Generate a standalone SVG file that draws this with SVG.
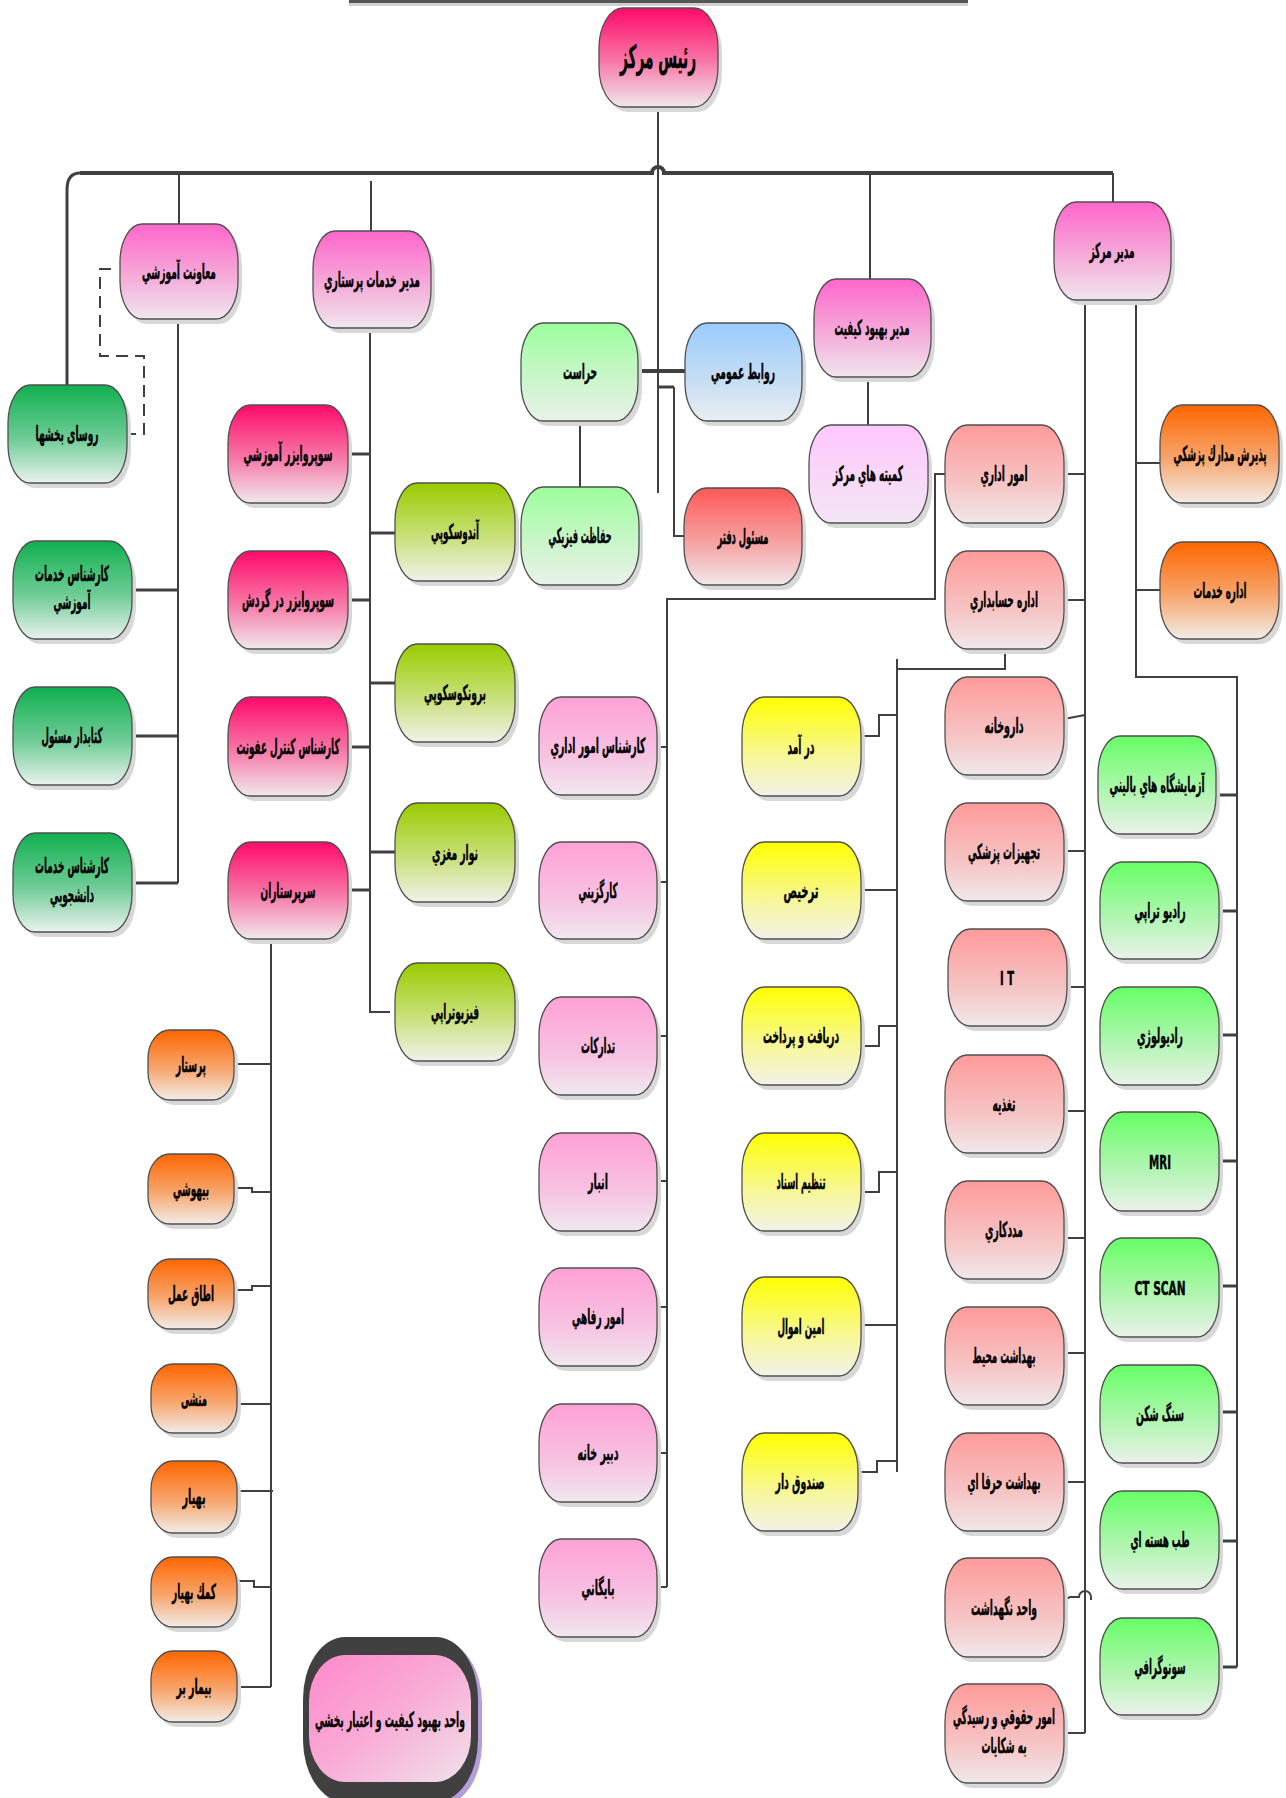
<svg xmlns="http://www.w3.org/2000/svg" width="1286" height="1798" viewBox="0 0 1286 1798">
<defs>
<linearGradient id="gHot" x1="0" y1="0" x2="0" y2="1"><stop offset="0" stop-color="#ff0a6a"/><stop offset="0.55" stop-color="#f77aa8"/><stop offset="1" stop-color="#f0e8ec"/></linearGradient>
<linearGradient id="gPink" x1="0" y1="0" x2="0" y2="1"><stop offset="0" stop-color="#ff66cc"/><stop offset="0.55" stop-color="#f5abd9"/><stop offset="1" stop-color="#f0e6ee"/></linearGradient>
<linearGradient id="gPinkL" x1="0" y1="0" x2="0" y2="1"><stop offset="0" stop-color="#ffa1d6"/><stop offset="0.6" stop-color="#f7c3e2"/><stop offset="1" stop-color="#f0e8ee"/></linearGradient>
<linearGradient id="gLav" x1="0" y1="0" x2="0" y2="1"><stop offset="0" stop-color="#ffc8ff"/><stop offset="1" stop-color="#f2e6f4"/></linearGradient>
<linearGradient id="gRed" x1="0" y1="0" x2="0" y2="1"><stop offset="0" stop-color="#ff5858"/><stop offset="0.6" stop-color="#f5a8a8"/><stop offset="1" stop-color="#f0e8ea"/></linearGradient>
<linearGradient id="gSal" x1="0" y1="0" x2="0" y2="1"><stop offset="0" stop-color="#ff9a9a"/><stop offset="0.6" stop-color="#f6c4c4"/><stop offset="1" stop-color="#f0e8ea"/></linearGradient>
<linearGradient id="gGrL" x1="0" y1="0" x2="0" y2="1"><stop offset="0" stop-color="#9cff9c"/><stop offset="0.6" stop-color="#cdf5cd"/><stop offset="1" stop-color="#eaf2ea"/></linearGradient>
<linearGradient id="gGrD" x1="0" y1="0" x2="0" y2="1"><stop offset="0" stop-color="#10b050"/><stop offset="0.55" stop-color="#6fcc96"/><stop offset="1" stop-color="#eaf2ee"/></linearGradient>
<linearGradient id="gOl" x1="0" y1="0" x2="0" y2="1"><stop offset="0" stop-color="#99cc00"/><stop offset="0.55" stop-color="#c8e07a"/><stop offset="1" stop-color="#f0f2ea"/></linearGradient>
<linearGradient id="gYel" x1="0" y1="0" x2="0" y2="1"><stop offset="0" stop-color="#ffff00"/><stop offset="0.6" stop-color="#f7f79a"/><stop offset="1" stop-color="#f2f2ea"/></linearGradient>
<linearGradient id="gOr" x1="0" y1="0" x2="0" y2="1"><stop offset="0" stop-color="#ff6600"/><stop offset="0.55" stop-color="#f7a66e"/><stop offset="1" stop-color="#f2ece8"/></linearGradient>
<linearGradient id="gGrB" x1="0" y1="0" x2="0" y2="1"><stop offset="0" stop-color="#66ff66"/><stop offset="0.6" stop-color="#b5f5b5"/><stop offset="1" stop-color="#eaf2ea"/></linearGradient>
<linearGradient id="gBlue" x1="0" y1="0" x2="0" y2="1"><stop offset="0" stop-color="#99ccff"/><stop offset="0.6" stop-color="#c8def3"/><stop offset="1" stop-color="#eaeef2"/></linearGradient>
<linearGradient id="gBig" x1="0" y1="0" x2="1" y2="1"><stop offset="0" stop-color="#ff88cc"/><stop offset="0.5" stop-color="#f9acd6"/><stop offset="1" stop-color="#f0e2ea"/></linearGradient>
</defs>
<style>
.nd{stroke:#505050;stroke-width:1.3}
.sh{fill:#d8d8d8}
.t{font-family:'DejaVu Sans Condensed','DejaVu Sans',sans-serif;font-weight:bold;font-size:21px;text-anchor:middle;fill:#000;stroke:#000;stroke-width:0.4}
.c{fill:none;stroke:#404040;stroke-width:2}
.s{fill:none;stroke:#404040;stroke-width:3}
.b{fill:none;stroke:#404040;stroke-width:4}
.d{fill:none;stroke:#404040;stroke-width:2;stroke-dasharray:12 7}
</style>
<rect x="349" y="0" width="619" height="3" fill="#555"/>
<rect x="349" y="3" width="619" height="3" fill="#d0d0d0"/>
<g id="connectors">
<path class="b" d="M1113 173 H664 A6 6 0 0 0 652 173 H80"/>
<path class="s" d="M80 173 Q67 173 67 190 V385"/>
<path class="c" d="M658 107 V493"/>
<path class="c" d="M179 173 V224"/>
<path class="c" d="M371 181 V231"/>
<path class="c" d="M870 173 V279"/>
<path class="c" d="M1113 173 V202"/>
<path class="d" d="M111 269 H100 V356 H144 V434 H127"/>
<path class="c" d="M178 319 V883"/>
<path class="s" d="M132 590 H178 M132 736 H178 M132 883 H178"/>
<path class="c" d="M370 328 V1012 H390"/>
<path class="s" d="M348 454 H370 M348 600 H370 M348 747 H370 M348 890 H370 M370 533 H395 M370 683 H395 M370 852 H395"/>
<path class="c" d="M271 939 V1687"/>
<path class="c" d="M234 1064 H271 M234 1188 H252 V1192 H271 M234 1290 H252 V1286 H271 M237 1404 H271 M237 1491 H273 M237 1581 H254 V1587 H271 M237 1687 H271"/>
<path class="b" d="M638 371 H685"/>
<path class="c" d="M580 421 V487"/>
<path class="s" d="M658 387 H674"/>
<path class="c" d="M674 387 V536 H684"/>
<path class="c" d="M868 377 V425"/>
<path class="c" d="M945 474 H935 V599 H667 V1587"/>
<path class="c" d="M657 747 H667 M657 882 H667 M657 1036 H667 M657 1181 H667 M657 1307 H667 M657 1453 H667 M657 1587 H667"/>
<path class="c" d="M1005 649 V669 H897 M897 659 V1472"/>
<path class="c" d="M861 736 H879 V715 H897 M861 890 H897 M861 1046 H879 V1026 H897 M861 1192 H879 V1172 H897 M861 1325 H897 M858 1472 H877 V1461 H897"/>
<path class="c" d="M1085 300 V1733"/>
<path class="c" d="M1064 474 H1085 M1064 600 H1085 M1064 719 L1085 715 M1064 851 H1085 M1067 987 H1085 M1064 1111 H1085 M1064 1238 H1085 M1064 1353 H1085 M1064 1482 H1085 M1064 1733 H1085"/>
<path class="c" d="M1064 1600 L1070 1597 H1079 A6 6 0 0 1 1091 1597 V1600"/>
<path class="c" d="M1136 300 V677 H1237 V1667"/>
<path class="c" d="M1136 463 H1160 M1136 590 H1160"/>
<path class="s" d="M1216 795 H1237 M1219 911 H1237 M1219 1035 H1237 M1219 1161 H1237 M1219 1286 H1237 M1219 1412 H1237 M1219 1541 H1237 M1219 1667 H1237"/>
</g>
<g id="n-rais"><rect class="sh" x="603" y="13" width="119" height="99" rx="24" ry="40"/><rect class="nd" x="599" y="8" width="119" height="99" rx="24" ry="40" fill="url(#gHot)"/><text class="t" x="658" y="68" style="font-size:32px" textLength="76" lengthAdjust="spacingAndGlyphs">رئيس مركز</text></g>
<g id="n-moavenat"><rect class="sh" x="124" y="229" width="118" height="95" rx="22" ry="38"/><rect class="nd" x="120" y="224" width="118" height="95" rx="22" ry="38" fill="url(#gPink)"/><text class="t" x="179" y="279" textLength="74" lengthAdjust="spacingAndGlyphs">معاونت آموزشي</text></g>
<g id="n-parastari"><rect class="sh" x="317" y="236" width="118" height="97" rx="22" ry="38"/><rect class="nd" x="313" y="231" width="118" height="97" rx="22" ry="38" fill="url(#gPink)"/><text class="t" x="372" y="287" textLength="96" lengthAdjust="spacingAndGlyphs">مدير خدمات پرستاري</text></g>
<g id="n-modir"><rect class="sh" x="1058" y="207" width="117" height="98" rx="22" ry="38"/><rect class="nd" x="1054" y="202" width="117" height="98" rx="22" ry="38" fill="url(#gPink)"/><text class="t" x="1112" y="258" textLength="45" lengthAdjust="spacingAndGlyphs">مدير مركز</text></g>
<g id="n-behbood"><rect class="sh" x="818" y="284" width="117" height="98" rx="22" ry="38"/><rect class="nd" x="814" y="279" width="117" height="98" rx="22" ry="38" fill="url(#gPink)"/><text class="t" x="872" y="335" textLength="75" lengthAdjust="spacingAndGlyphs">مدير بهبود كيفيت</text></g>
<g id="n-herasat"><rect class="sh" x="525" y="328" width="117" height="98" rx="22" ry="38"/><rect class="nd" x="521" y="323" width="117" height="98" rx="22" ry="38" fill="url(#gGrL)"/><text class="t" x="580" y="379" textLength="34" lengthAdjust="spacingAndGlyphs">حراست</text></g>
<g id="n-ravabet"><rect class="sh" x="689" y="328" width="117" height="98" rx="22" ry="38"/><rect class="nd" x="685" y="323" width="117" height="98" rx="22" ry="38" fill="url(#gBlue)"/><text class="t" x="743" y="379" textLength="64" lengthAdjust="spacingAndGlyphs">روابط عمومي</text></g>
<g id="n-komite"><rect class="sh" x="813" y="430" width="119" height="98" rx="22" ry="38"/><rect class="nd" x="809" y="425" width="119" height="98" rx="22" ry="38" fill="url(#gLav)"/><text class="t" x="868" y="481" textLength="70" lengthAdjust="spacingAndGlyphs">كميته هاي مركز</text></g>
<g id="n-daftar"><rect class="sh" x="688" y="493" width="118" height="97" rx="22" ry="38"/><rect class="nd" x="684" y="488" width="118" height="97" rx="22" ry="38" fill="url(#gRed)"/><text class="t" x="743" y="544" textLength="51" lengthAdjust="spacingAndGlyphs">مسئول دفتر</text></g>
<g id="n-hefazat"><rect class="sh" x="525" y="492" width="118" height="98" rx="22" ry="38"/><rect class="nd" x="521" y="487" width="118" height="98" rx="22" ry="38" fill="url(#gGrL)"/><text class="t" x="580" y="543" textLength="63" lengthAdjust="spacingAndGlyphs">حفاظت فيزيكي</text></g>
<g id="n-roasa"><rect class="sh" x="12" y="390" width="119" height="98" rx="22" ry="38"/><rect class="nd" x="8" y="385" width="119" height="98" rx="22" ry="38" fill="url(#gGrD)"/><text class="t" x="67" y="441" textLength="63" lengthAdjust="spacingAndGlyphs">روسای بخشها</text></g>
<g id="n-amoozeshi"><rect class="sh" x="17" y="546" width="119" height="98" rx="22" ry="38"/><rect class="nd" x="13" y="541" width="119" height="98" rx="22" ry="38" fill="url(#gGrD)"/><text class="t" x="72" y="581" textLength="74" lengthAdjust="spacingAndGlyphs">كارشناس خدمات</text><text class="t" x="72" y="609" textLength="37" lengthAdjust="spacingAndGlyphs">آموزشي</text></g>
<g id="n-ketabdar"><rect class="sh" x="17" y="692" width="119" height="98" rx="22" ry="38"/><rect class="nd" x="13" y="687" width="119" height="98" rx="22" ry="38" fill="url(#gGrD)"/><text class="t" x="72" y="743" textLength="61" lengthAdjust="spacingAndGlyphs">كتابدار مسئول</text></g>
<g id="n-daneshjooyi"><rect class="sh" x="17" y="838" width="119" height="99" rx="22" ry="38"/><rect class="nd" x="13" y="833" width="119" height="99" rx="22" ry="38" fill="url(#gGrD)"/><text class="t" x="72" y="873" textLength="74" lengthAdjust="spacingAndGlyphs">كارشناس خدمات</text><text class="t" x="72" y="902" textLength="44" lengthAdjust="spacingAndGlyphs">دانشجويي</text></g>
<g id="n-sup1"><rect class="sh" x="232" y="410" width="120" height="98" rx="22" ry="38"/><rect class="nd" x="228" y="405" width="120" height="98" rx="22" ry="38" fill="url(#gHot)"/><text class="t" x="288" y="461" textLength="89" lengthAdjust="spacingAndGlyphs">سوپروايزر آموزشي</text></g>
<g id="n-sup2"><rect class="sh" x="232" y="556" width="120" height="98" rx="22" ry="38"/><rect class="nd" x="228" y="551" width="120" height="98" rx="22" ry="38" fill="url(#gHot)"/><text class="t" x="288" y="607" textLength="92" lengthAdjust="spacingAndGlyphs">سوپروايزر در گردش</text></g>
<g id="n-ofoonat"><rect class="sh" x="232" y="702" width="120" height="99" rx="22" ry="38"/><rect class="nd" x="228" y="697" width="120" height="99" rx="22" ry="38" fill="url(#gHot)"/><text class="t" x="288" y="754" textLength="103" lengthAdjust="spacingAndGlyphs">كارشناس كنترل عفونت</text></g>
<g id="n-sarparastar"><rect class="sh" x="232" y="847" width="120" height="97" rx="22" ry="38"/><rect class="nd" x="228" y="842" width="120" height="97" rx="22" ry="38" fill="url(#gHot)"/><text class="t" x="288" y="898" textLength="55" lengthAdjust="spacingAndGlyphs">سرپرستاران</text></g>
<g id="n-endo"><rect class="sh" x="399" y="488" width="120" height="98" rx="22" ry="38"/><rect class="nd" x="395" y="483" width="120" height="98" rx="22" ry="38" fill="url(#gOl)"/><text class="t" x="455" y="539" textLength="48" lengthAdjust="spacingAndGlyphs">آندوسكوپي</text></g>
<g id="n-broncho"><rect class="sh" x="399" y="649" width="120" height="98" rx="22" ry="38"/><rect class="nd" x="395" y="644" width="120" height="98" rx="22" ry="38" fill="url(#gOl)"/><text class="t" x="455" y="700" textLength="62" lengthAdjust="spacingAndGlyphs">برونكوسكوپي</text></g>
<g id="n-navar"><rect class="sh" x="399" y="808" width="120" height="99" rx="22" ry="38"/><rect class="nd" x="395" y="803" width="120" height="99" rx="22" ry="38" fill="url(#gOl)"/><text class="t" x="455" y="860" textLength="46" lengthAdjust="spacingAndGlyphs">نوار مغزي</text></g>
<g id="n-physio"><rect class="sh" x="399" y="968" width="120" height="98" rx="22" ry="38"/><rect class="nd" x="395" y="963" width="120" height="98" rx="22" ry="38" fill="url(#gOl)"/><text class="t" x="455" y="1019" textLength="48" lengthAdjust="spacingAndGlyphs">فيزيوتراپي</text></g>
<g id="n-parastar"><rect class="sh" x="152" y="1035" width="86" height="70" rx="22" ry="28"/><rect class="nd" x="148" y="1030" width="86" height="70" rx="22" ry="28" fill="url(#gOr)"/><text class="t" x="191" y="1072" textLength="30" lengthAdjust="spacingAndGlyphs">پرستار</text></g>
<g id="n-bihooshi"><rect class="sh" x="152" y="1159" width="86" height="70" rx="22" ry="28"/><rect class="nd" x="148" y="1154" width="86" height="70" rx="22" ry="28" fill="url(#gOr)"/><text class="t" x="191" y="1196" textLength="36" lengthAdjust="spacingAndGlyphs">بيهوشي</text></g>
<g id="n-amal"><rect class="sh" x="152" y="1264" width="86" height="70" rx="22" ry="28"/><rect class="nd" x="148" y="1259" width="86" height="70" rx="22" ry="28" fill="url(#gOr)"/><text class="t" x="191" y="1301" textLength="46" lengthAdjust="spacingAndGlyphs">اطاق عمل</text></g>
<g id="n-monshi"><rect class="sh" x="155" y="1369" width="86" height="69" rx="22" ry="28"/><rect class="nd" x="151" y="1364" width="86" height="69" rx="22" ry="28" fill="url(#gOr)"/><text class="t" x="194" y="1406" textLength="26" lengthAdjust="spacingAndGlyphs">منشى</text></g>
<g id="n-behyar"><rect class="sh" x="155" y="1466" width="86" height="72" rx="22" ry="28"/><rect class="nd" x="151" y="1461" width="86" height="72" rx="22" ry="28" fill="url(#gOr)"/><text class="t" x="194" y="1504" textLength="23" lengthAdjust="spacingAndGlyphs">بهيار</text></g>
<g id="n-komakbehyar"><rect class="sh" x="155" y="1562" width="86" height="70" rx="22" ry="28"/><rect class="nd" x="151" y="1557" width="86" height="70" rx="22" ry="28" fill="url(#gOr)"/><text class="t" x="194" y="1599" textLength="44" lengthAdjust="spacingAndGlyphs">كمك بهيار</text></g>
<g id="n-bimarbar"><rect class="sh" x="155" y="1656" width="86" height="71" rx="22" ry="28"/><rect class="nd" x="151" y="1651" width="86" height="71" rx="22" ry="28" fill="url(#gOr)"/><text class="t" x="194" y="1694" textLength="35" lengthAdjust="spacingAndGlyphs">بيمار بر</text></g>
<g id="n-vahed-behbood"><rect x="307" y="1641" width="175" height="165" rx="42" ry="62" fill="#b39ddb"/><rect x="303" y="1637" width="175" height="165" rx="42" ry="62" fill="#404040"/><rect x="309" y="1655" width="162" height="127" rx="36" ry="46" fill="url(#gBig)"/><text class="t" x="390" y="1727" textLength="150" lengthAdjust="spacingAndGlyphs">واحد بهبود كيفيت و اعتبار بخشي</text></g>
<g id="n-karshenas-edari"><rect class="sh" x="543" y="702" width="118" height="98" rx="22" ry="38"/><rect class="nd" x="539" y="697" width="118" height="98" rx="22" ry="38" fill="url(#gPinkL)"/><text class="t" x="598" y="753" textLength="95" lengthAdjust="spacingAndGlyphs">كارشناس امور اداري</text></g>
<g id="n-kargozini"><rect class="sh" x="543" y="847" width="118" height="97" rx="22" ry="38"/><rect class="nd" x="539" y="842" width="118" height="97" rx="22" ry="38" fill="url(#gPinkL)"/><text class="t" x="598" y="898" textLength="39" lengthAdjust="spacingAndGlyphs">كارگزيني</text></g>
<g id="n-tadarokat"><rect class="sh" x="543" y="1002" width="118" height="98" rx="22" ry="38"/><rect class="nd" x="539" y="997" width="118" height="98" rx="22" ry="38" fill="url(#gPinkL)"/><text class="t" x="598" y="1053" textLength="34" lengthAdjust="spacingAndGlyphs">تداركات</text></g>
<g id="n-anbar"><rect class="sh" x="543" y="1138" width="118" height="98" rx="22" ry="38"/><rect class="nd" x="539" y="1133" width="118" height="98" rx="22" ry="38" fill="url(#gPinkL)"/><text class="t" x="598" y="1189" textLength="20" lengthAdjust="spacingAndGlyphs">انبار</text></g>
<g id="n-refahi"><rect class="sh" x="543" y="1273" width="118" height="98" rx="22" ry="38"/><rect class="nd" x="539" y="1268" width="118" height="98" rx="22" ry="38" fill="url(#gPinkL)"/><text class="t" x="598" y="1324" textLength="52" lengthAdjust="spacingAndGlyphs">امور رفاهي</text></g>
<g id="n-dabirkhane"><rect class="sh" x="543" y="1409" width="118" height="98" rx="22" ry="38"/><rect class="nd" x="539" y="1404" width="118" height="98" rx="22" ry="38" fill="url(#gPinkL)"/><text class="t" x="598" y="1460" textLength="41" lengthAdjust="spacingAndGlyphs">دبير خانه</text></g>
<g id="n-bayegani"><rect class="sh" x="543" y="1544" width="118" height="98" rx="22" ry="38"/><rect class="nd" x="539" y="1539" width="118" height="98" rx="22" ry="38" fill="url(#gPinkL)"/><text class="t" x="598" y="1595" textLength="33" lengthAdjust="spacingAndGlyphs">بايگاني</text></g>
<g id="n-daramad"><rect class="sh" x="746" y="702" width="119" height="99" rx="22" ry="38"/><rect class="nd" x="742" y="697" width="119" height="99" rx="22" ry="38" fill="url(#gYel)"/><text class="t" x="801" y="754" textLength="27" lengthAdjust="spacingAndGlyphs">در آمد</text></g>
<g id="n-tarkhis"><rect class="sh" x="746" y="847" width="119" height="97" rx="22" ry="38"/><rect class="nd" x="742" y="842" width="119" height="97" rx="22" ry="38" fill="url(#gYel)"/><text class="t" x="801" y="898" textLength="35" lengthAdjust="spacingAndGlyphs">ترخيص</text></g>
<g id="n-daryaft"><rect class="sh" x="746" y="992" width="119" height="98" rx="22" ry="38"/><rect class="nd" x="742" y="987" width="119" height="98" rx="22" ry="38" fill="url(#gYel)"/><text class="t" x="801" y="1043" textLength="76" lengthAdjust="spacingAndGlyphs">دريافت و پرداخت</text></g>
<g id="n-tanzim"><rect class="sh" x="746" y="1138" width="119" height="98" rx="22" ry="38"/><rect class="nd" x="742" y="1133" width="119" height="98" rx="22" ry="38" fill="url(#gYel)"/><text class="t" x="801" y="1189" textLength="49" lengthAdjust="spacingAndGlyphs">تنظيم اسناد</text></g>
<g id="n-amin"><rect class="sh" x="746" y="1282" width="119" height="99" rx="22" ry="38"/><rect class="nd" x="742" y="1277" width="119" height="99" rx="22" ry="38" fill="url(#gYel)"/><text class="t" x="801" y="1334" textLength="47" lengthAdjust="spacingAndGlyphs">امين اموال</text></g>
<g id="n-sandooq"><rect class="sh" x="746" y="1438" width="116" height="98" rx="22" ry="38"/><rect class="nd" x="742" y="1433" width="116" height="98" rx="22" ry="38" fill="url(#gYel)"/><text class="t" x="800" y="1489" textLength="49" lengthAdjust="spacingAndGlyphs">صندوق دار</text></g>
<g id="n-omoor-edari"><rect class="sh" x="949" y="430" width="119" height="98" rx="22" ry="38"/><rect class="nd" x="945" y="425" width="119" height="98" rx="22" ry="38" fill="url(#gSal)"/><text class="t" x="1004" y="481" textLength="47" lengthAdjust="spacingAndGlyphs">امور اداري</text></g>
<g id="n-hesabdari"><rect class="sh" x="949" y="556" width="119" height="98" rx="22" ry="38"/><rect class="nd" x="945" y="551" width="119" height="98" rx="22" ry="38" fill="url(#gSal)"/><text class="t" x="1004" y="607" textLength="68" lengthAdjust="spacingAndGlyphs">اداره حسابداري</text></g>
<g id="n-darookhane"><rect class="sh" x="949" y="682" width="119" height="98" rx="22" ry="38"/><rect class="nd" x="945" y="677" width="119" height="98" rx="22" ry="38" fill="url(#gSal)"/><text class="t" x="1004" y="733" textLength="39" lengthAdjust="spacingAndGlyphs">داروخانه</text></g>
<g id="n-tajhizat"><rect class="sh" x="949" y="808" width="119" height="98" rx="22" ry="38"/><rect class="nd" x="945" y="803" width="119" height="98" rx="22" ry="38" fill="url(#gSal)"/><text class="t" x="1004" y="859" textLength="72" lengthAdjust="spacingAndGlyphs">تجهيزات پزشكي</text></g>
<g id="n-it"><rect class="sh" x="952" y="934" width="119" height="97" rx="22" ry="38"/><rect class="nd" x="948" y="929" width="119" height="97" rx="22" ry="38" fill="url(#gSal)"/><text class="t" x="1007" y="985" style="font-size:19px" textLength="14" lengthAdjust="spacingAndGlyphs">I T</text></g>
<g id="n-taghzie"><rect class="sh" x="949" y="1060" width="119" height="98" rx="22" ry="38"/><rect class="nd" x="945" y="1055" width="119" height="98" rx="22" ry="38" fill="url(#gSal)"/><text class="t" x="1004" y="1111" textLength="23" lengthAdjust="spacingAndGlyphs">تغذيه</text></g>
<g id="n-madadkari"><rect class="sh" x="949" y="1186" width="119" height="98" rx="22" ry="38"/><rect class="nd" x="945" y="1181" width="119" height="98" rx="22" ry="38" fill="url(#gSal)"/><text class="t" x="1004" y="1237" textLength="38" lengthAdjust="spacingAndGlyphs">مددكاري</text></g>
<g id="n-mohit"><rect class="sh" x="949" y="1312" width="119" height="98" rx="22" ry="38"/><rect class="nd" x="945" y="1307" width="119" height="98" rx="22" ry="38" fill="url(#gSal)"/><text class="t" x="1004" y="1363" textLength="63" lengthAdjust="spacingAndGlyphs">بهداشت محيط</text></g>
<g id="n-herfei"><rect class="sh" x="949" y="1438" width="119" height="98" rx="22" ry="38"/><rect class="nd" x="945" y="1433" width="119" height="98" rx="22" ry="38" fill="url(#gSal)"/><text class="t" x="1004" y="1489" textLength="73" lengthAdjust="spacingAndGlyphs">بهداشت حرفا اي</text></g>
<g id="n-negahdasht"><rect class="sh" x="949" y="1563" width="119" height="99" rx="22" ry="38"/><rect class="nd" x="945" y="1558" width="119" height="99" rx="22" ry="38" fill="url(#gSal)"/><text class="t" x="1004" y="1615" textLength="66" lengthAdjust="spacingAndGlyphs">واحد نگهداشت</text></g>
<g id="n-hoghooghi"><rect class="sh" x="949" y="1689" width="119" height="99" rx="22" ry="38"/><rect class="nd" x="945" y="1684" width="119" height="99" rx="22" ry="38" fill="url(#gSal)"/><text class="t" x="1004" y="1724" textLength="102" lengthAdjust="spacingAndGlyphs">امور حقوقي و رسيدگي</text><text class="t" x="1004" y="1753" textLength="45" lengthAdjust="spacingAndGlyphs">به شكايات</text></g>
<g id="n-paziresh"><rect class="sh" x="1164" y="410" width="119" height="98" rx="22" ry="38"/><rect class="nd" x="1160" y="405" width="119" height="98" rx="22" ry="38" fill="url(#gOr)"/><text class="t" transform="translate(1220 461) scale(0.5 1)" x="0" y="0" textLength="186" lengthAdjust="spacingAndGlyphs">پذيرش مدارك پزشكي</text></g>
<g id="n-khadamat"><rect class="sh" x="1164" y="547" width="119" height="97" rx="22" ry="38"/><rect class="nd" x="1160" y="542" width="119" height="97" rx="22" ry="38" fill="url(#gOr)"/><text class="t" transform="translate(1220 598) scale(0.5 1)" x="0" y="0" textLength="106" lengthAdjust="spacingAndGlyphs">اداره خدمات</text></g>
<g id="n-azmayeshgah"><rect class="sh" x="1102" y="741" width="118" height="98" rx="22" ry="38"/><rect class="nd" x="1098" y="736" width="118" height="98" rx="22" ry="38" fill="url(#gGrB)"/><text class="t" transform="translate(1157 792) scale(0.5 1)" x="0" y="0" textLength="190" lengthAdjust="spacingAndGlyphs">آزمايشگاه هاي باليني</text></g>
<g id="n-radiotherapy"><rect class="sh" x="1104" y="867" width="119" height="97" rx="22" ry="38"/><rect class="nd" x="1100" y="862" width="119" height="97" rx="22" ry="38" fill="url(#gGrB)"/><text class="t" x="1160" y="918" textLength="51" lengthAdjust="spacingAndGlyphs">راديو تراپي</text></g>
<g id="n-radiology"><rect class="sh" x="1104" y="992" width="119" height="98" rx="22" ry="38"/><rect class="nd" x="1100" y="987" width="119" height="98" rx="22" ry="38" fill="url(#gGrB)"/><text class="t" x="1160" y="1043" textLength="46" lengthAdjust="spacingAndGlyphs">راديولوژي</text></g>
<g id="n-mri"><rect class="sh" x="1104" y="1117" width="119" height="99" rx="22" ry="38"/><rect class="nd" x="1100" y="1112" width="119" height="99" rx="22" ry="38" fill="url(#gGrB)"/><text class="t" x="1160" y="1169" style="font-size:19px" textLength="22" lengthAdjust="spacingAndGlyphs">MRI</text></g>
<g id="n-ct"><rect class="sh" x="1104" y="1243" width="119" height="99" rx="22" ry="38"/><rect class="nd" x="1100" y="1238" width="119" height="99" rx="22" ry="38" fill="url(#gGrB)"/><text class="t" x="1160" y="1295" style="font-size:19px" textLength="51" lengthAdjust="spacingAndGlyphs">CT SCAN</text></g>
<g id="n-sangshekan"><rect class="sh" x="1104" y="1370" width="119" height="98" rx="22" ry="38"/><rect class="nd" x="1100" y="1365" width="119" height="98" rx="22" ry="38" fill="url(#gGrB)"/><text class="t" x="1160" y="1421" textLength="48" lengthAdjust="spacingAndGlyphs">سنگ شكن</text></g>
<g id="n-hastei"><rect class="sh" x="1104" y="1496" width="119" height="98" rx="22" ry="38"/><rect class="nd" x="1100" y="1491" width="119" height="98" rx="22" ry="38" fill="url(#gGrB)"/><text class="t" x="1160" y="1547" textLength="59" lengthAdjust="spacingAndGlyphs">طب هسته اي</text></g>
<g id="n-sonography"><rect class="sh" x="1104" y="1623" width="119" height="97" rx="22" ry="38"/><rect class="nd" x="1100" y="1618" width="119" height="97" rx="22" ry="38" fill="url(#gGrB)"/><text class="t" x="1160" y="1674" textLength="51" lengthAdjust="spacingAndGlyphs">سونوگرافي</text></g>
</svg>
